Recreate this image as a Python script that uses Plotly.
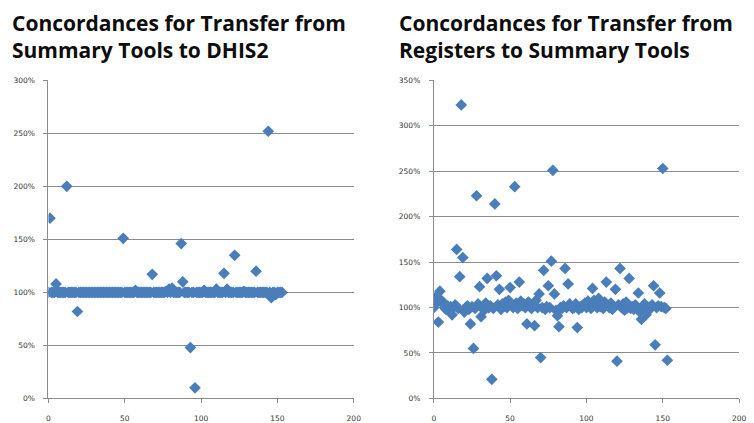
import plotly.graph_objects as go

# Concordance (%) per facility, indexed by facility number
left_pct = [
    100, 170, 100, 100, 100, 108, 100, 100, 100, 100,
    100, 100, 200, 100, 100, 100, 100, 100, 100, 82,
    100, 100, 100, 100, 100, 100, 100, 100, 100, 100,
    100, 100, 100, 100, 100, 100, 100, 100, 100, 100,
    100, 100, 100, 100, 100, 100, 100, 100, 100, 151,
    100, 100, 100, 100, 100, 100, 100, 102, 100, 100,
    100, 100, 100, 100, 100, 100, 100, 100, 117, 100,
    100, 100, 100, 100, 100, 100, 100, 101, 100, 103,
    100, 104, 100, 100, 100, 100, 100, 146, 110, 100,
    100, 100, 100, 48, 100, 100, 10, 100, 100, 100,
    100, 100, 102, 100, 100, 100, 100, 100, 100, 100,
    103, 100, 100, 100, 100, 118, 100, 103, 100, 100,
    100, 100, 135, 100, 100, 100, 100, 100, 101, 100,
    100, 100, 100, 100, 100, 100, 120, 100, 100, 100,
    100, 100, 100, 100, 252, 100, 95, 100, 100, 98,
    100, 100, 100, 100,
]

right_pct = [
    100, 111, 106, 84, 118, 108, 104, 100, 98, 102,
    97, 101, 92, 100, 103, 164, 99, 134, 323, 155,
    95, 100, 102, 98, 82, 101, 55, 99, 223, 104,
    123, 90, 100, 97, 105, 132, 100, 102, 21, 99,
    214, 135, 103, 120, 98, 104, 101, 106, 100, 108,
    122, 103, 100, 233, 105, 99, 128, 107, 102, 104,
    100, 82, 106, 101, 99, 103, 80, 108, 100, 115,
    45, 100, 141, 98, 101, 124, 100, 151, 251, 115,
    97, 91, 79, 100, 99, 102, 143, 100, 126, 104,
    101, 99, 100, 104, 78, 98, 101, 100, 103, 105,
    100, 107, 104, 99, 121, 108, 103, 100, 110, 101,
    104, 99, 106, 128, 102, 100, 105, 98, 101, 120,
    41, 103, 143, 100, 104, 97, 106, 100, 132, 99,
    101, 98, 103, 100, 116, 95, 87, 100, 104, 92,
    101, 97, 100, 103, 124, 59, 100, 102, 116, 101,
    253, 100, 99, 42,
]

left_title = "Concordances for Transfer from<br>Summary Tools to DHIS2"
right_title = "Concordances for Transfer from<br>Registers to Summary Tools"

W, H = 754, 423
BLUE = "#4A7EBB"
GRID = "#8c8c8c"
TICKFONT = dict(family="DejaVu Sans", size=7.5, color="#333333")

fig = go.Figure()
fig.add_trace(go.Scatter(
    x=list(range(len(left_pct))), y=[v / 100 for v in left_pct],
    mode="markers", marker=dict(symbol="diamond", size=9, color=BLUE),
    xaxis="x", yaxis="y", showlegend=False, hoverinfo="skip"))
fig.add_trace(go.Scatter(
    x=list(range(len(right_pct))), y=[v / 100 for v in right_pct],
    mode="markers", marker=dict(symbol="diamond", size=9, color=BLUE),
    xaxis="x2", yaxis="y2", showlegend=False, hoverinfo="skip"))

ydom = [1 - 403 / H, 1 - 78 / H]

def xaxis(dom, anchor):
    return dict(domain=dom, anchor=anchor, range=[0, 200], dtick=50, tick0=0,
                showgrid=False, zeroline=False, showline=True, linecolor=GRID,
                linewidth=1, ticks="outside", ticklen=4, tickcolor=GRID,
                ticklabelstandoff=9, tickfont=TICKFONT, fixedrange=True)

def yaxis(top, anchor):
    return dict(domain=ydom, anchor=anchor, range=[0, top], dtick=0.5, tick0=0,
                tickformat=".0%", showgrid=True, gridcolor=GRID, gridwidth=1,
                zeroline=False, showline=True, linecolor=GRID, linewidth=1,
                ticks="outside", ticklen=4, tickcolor=GRID,
                ticklabelstandoff=7, tickfont=TICKFONT, fixedrange=True)

fig.update_layout(
    width=W, height=H,
    margin=dict(l=0, r=0, t=0, b=0),
    paper_bgcolor="white", plot_bgcolor="white",
    xaxis=xaxis([47 / W, 356 / W], "y"),
    yaxis=yaxis(3.0, "x"),
    xaxis2=xaxis([437 / W, 746 / W], "y2"),
    yaxis2=yaxis(3.5, "x2"),
)

title_font = dict(family="Open Sans", size=21, color="#0d0d0d")
for txt, xpx in [(left_title, 8), (right_title, 400)]:
    fig.add_annotation(text="<b>" + txt + "</b>", xref="paper", yref="paper",
                       x=xpx / W, y=1 - 3 / H, xanchor="left", yanchor="top",
                       align="left", showarrow=False, font=title_font)

fig.write_html("out.html")
